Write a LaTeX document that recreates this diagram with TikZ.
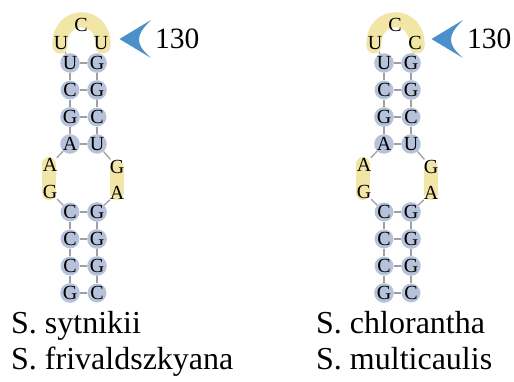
\documentclass[tikz,border=0pt]{standalone}
\usepackage{fontspec}
\setmainfont{Liberation Serif}
\definecolor{basefill}{HTML}{B5C2DA}
\definecolor{backbone}{HTML}{A0A0A0}
\definecolor{loophl}{HTML}{F1E6A6}
\definecolor{marker}{HTML}{4B90CA}
\newcommand\basefont{\fontsize{20}{20}\selectfont}
\tikzset{
  paired/.style={circle, fill=basefill, minimum size=18pt, inner sep=0pt,
    font=\basefont},
  unpaired/.style={circle, minimum size=14pt, inner sep=0pt,
    font=\basefont},
  bond/.style={draw=backbone, line width=1.3pt},
  highlight/.style={draw=loophl, line width=15pt, line cap=round},
  species/.style={anchor=base west, inner sep=0pt,
    font=\fontsize{32}{36}\selectfont},
  poslabel/.style={anchor=west, inner sep=0pt,
    font=\fontsize{29.5}{30}\selectfont},
}
% One stem-loop: #1 name prefix, #2 horizontal offset, #3 last hairpin base,
% #4 offset of the position marker
\newcommand\stemloop[4]{%
  \begin{scope}[xshift=#2]
    % yellow marks behind the unpaired bases
    \draw[highlight] (60,46) .. controls (58,11) and (105,11) .. (103,46);
    \draw[highlight, line width=14pt] (49,164) -- (49,193);
    \draw[highlight, line width=14pt] (117,168) -- (117,193);
    % hairpin loop
    \node[unpaired] (#1h1) at (61,43) {U};
    \node[unpaired] (#1h2) at (81,25) {C};
    \node[unpaired] (#1h3) at (101,43) {#3};
    % upper stem
    \node[paired] (#1a1) at (70,63) {U};  \node[paired] (#1b1) at (97,63) {G};
    \node[paired] (#1a2) at (70,90) {C};  \node[paired] (#1b2) at (97,90) {G};
    \node[paired] (#1a3) at (70,117) {G}; \node[paired] (#1b3) at (97,117) {C};
    \node[paired] (#1a4) at (70,144) {A}; \node[paired] (#1b4) at (97,144) {U};
    % interior loop
    \node[unpaired] (#1l1) at (50,165) {A};
    \node[unpaired] (#1l2) at (50,192) {G};
    \node[unpaired] (#1r1) at (117,167) {G};
    \node[unpaired] (#1r2) at (117,193) {A};
    % lower stem
    \node[paired] (#1a5) at (70,212) {C}; \node[paired] (#1b5) at (97,212) {G};
    \node[paired] (#1a6) at (70,239) {C}; \node[paired] (#1b6) at (97,239) {G};
    \node[paired] (#1a7) at (70,266) {C}; \node[paired] (#1b7) at (97,266) {G};
    \node[paired] (#1a8) at (70,293) {G}; \node[paired] (#1b8) at (97,293) {C};
    % base pairs
    \foreach \i in {1,...,8} { \draw[bond] (#1a\i) -- (#1b\i); }
    % backbone
    \draw[bond] (#1a1) -- (#1h1);
    \draw[bond] (#1b1) -- (#1h3);
    \foreach \i/\j in {1/2,2/3,3/4,5/6,6/7,7/8} {
      \draw[bond] (#1a\i) -- (#1a\j);
      \draw[bond] (#1b\i) -- (#1b\j);
    }
    \draw[bond] (#1a4) -- (#1l1);
    \draw[bond] (#1l2) -- (#1a5);
    \draw[bond] (#1b4) -- (#1r1);
    \draw[bond] (#1r2) -- (#1b5);
  \end{scope}
  % position marker
  \begin{scope}[xshift=#4]
    \fill[marker] (119.5,39) -- (151,20) .. controls (142,29) and (139,34) .. (139,39.5)
      .. controls (139,45) and (142,50) .. (151,58) -- cycle;
    \node[poslabel] (#1pos) at (155,39) {130};
  \end{scope}
}
\begin{document}
\begin{tikzpicture}[x=1pt, y=-1pt]
  \useasboundingbox (0,0) rectangle (514,381);
  \fill[white] (0,0) rectangle (514,381);
  \stemloop{p}{0pt}{U}{0pt}
  \stemloop{q}{314pt}{C}{312pt}
  \node[species] (sp1) at (11,333) {S. sytnikii};
  \node[species] (sp2) at (11,369) {S. frivaldszkyana};
  \node[species] (sp3) at (316,333) {S. chlorantha};
  \node[species] (sp4) at (316,369) {S. multicaulis};
\end{tikzpicture}
\end{document}
